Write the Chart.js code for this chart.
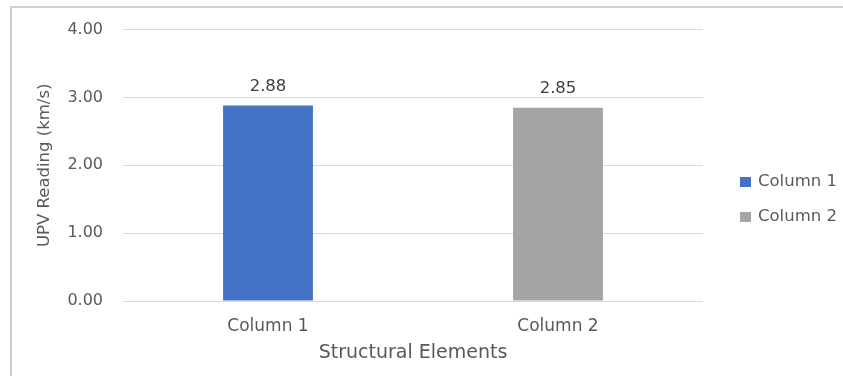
<!DOCTYPE html>
<html>
<head>
<meta charset="utf-8">
<script src="https://cdn.jsdelivr.net/npm/chart.js@4/dist/chart.umd.min.js"></script>
<style>
  html, body { margin: 0; padding: 0; background: #ffffff; }
  #wrap { position: relative; width: 843px; height: 376px; overflow: hidden; background: #ffffff; }
  #frame {
    position: absolute; left: 10px; top: 6px; width: 900px; height: 420px;
    border-left: 2px solid #d0d0d0; border-top: 2px solid #d0d0d0;
  }
  #c { position: absolute; left: 0; top: 0; }
</style>
</head>
<body>
<div id="wrap">
  <div id="frame"></div>
  <canvas id="c" width="843" height="376"></canvas>
</div>
<script>
// Categories and readings
const categories = ['Column 1', 'Column 2'];
const upvValues = [2.88, 2.85];
const barColors = ['#4472C4', '#A5A5A5'];
const yTickValues = [0, 1, 2, 3, 4];

const FONT = 'DejaVu Sans';
const TEXT_GRAY = '#595959';

// Value labels above each bar
const valueLabels = {
  id: 'valueLabels',
  afterDatasetsDraw(chart) {
    const ctx = chart.ctx;
    const meta = chart.getDatasetMeta(0);
    ctx.save();
    ctx.font = '16.5px "' + FONT + '"';
    ctx.fillStyle = '#404040';
    ctx.textAlign = 'center';
    ctx.textBaseline = 'middle';
    meta.data.forEach((bar, i) => {
      ctx.fillText(upvValues[i].toFixed(2), bar.x, bar.y - 19);
    });
    ctx.restore();
  }
};

// Category legend on the right
const sideLegend = {
  id: 'sideLegend',
  afterDraw(chart) {
    const ctx = chart.ctx;
    ctx.save();
    ctx.font = '16.5px "' + FONT + '"';
    ctx.textAlign = 'left';
    ctx.textBaseline = 'middle';
    categories.forEach((name, i) => {
      const y = 182 + i * 35;
      ctx.fillStyle = barColors[i];
      ctx.fillRect(740, y - 5, 11, 10);
      ctx.fillStyle = TEXT_GRAY;
      ctx.fillText(name, 758, y);
    });
    ctx.restore();
  }
};

new Chart(document.getElementById('c'), {
  type: 'bar',
  data: {
    labels: categories,
    datasets: [{
      label: 'UPV Reading',
      data: upvValues,
      backgroundColor: barColors,
      borderWidth: 0,
      barPercentage: 0.31,
      categoryPercentage: 1.0
    }]
  },
  options: {
    responsive: false,
    animation: false,
    events: [],
    layout: { padding: { left: 10, top: 28, right: 140, bottom: 4 } },
    plugins: {
      legend: { display: false },
      tooltip: { enabled: false },
      title: { display: false }
    },
    scales: {
      x: {
        grid: { display: false, drawTicks: false },
        border: { display: false },
        ticks: {
          color: TEXT_GRAY,
          font: { family: FONT, size: 17 },
          padding: 15,
          maxRotation: 0
        },
        title: {
          display: true,
          text: 'Structural Elements',
          color: TEXT_GRAY,
          font: { family: FONT, size: 19 },
          padding: { top: 0, bottom: 8 }
        },
        afterFit(scale) { scale.height = 71; }
      },
      y: {
        min: 0,
        max: 4,
        afterBuildTicks(scale) {
          scale.ticks = yTickValues.map(v => ({ value: v }));
        },
        grid: { color: '#d9d9d9', lineWidth: 1, drawTicks: false },
        border: { display: false },
        ticks: {
          color: TEXT_GRAY,
          font: { family: FONT, size: 16 },
          padding: 20,
          callback: v => Number(v).toFixed(2)
        },
        title: {
          display: true,
          text: 'UPV Reading (km/s)',
          color: TEXT_GRAY,
          font: { family: FONT, size: 16.5 },
          padding: { top: 25, bottom: 0 }
        },
        afterFit(scale) { scale.width = 113; }
      }
    }
  },
  plugins: [valueLabels, sideLegend]
});
</script>
</body>
</html>
